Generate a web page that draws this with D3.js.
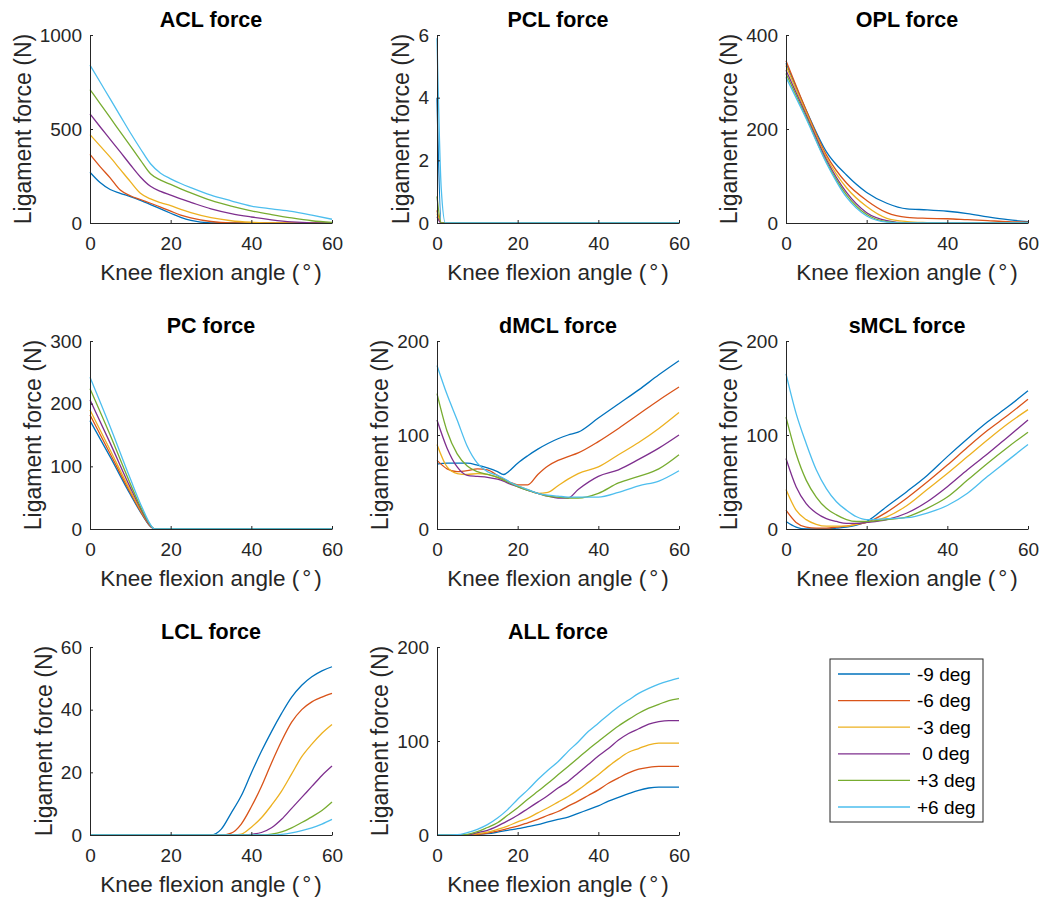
<!DOCTYPE html>
<html>
<head>
<meta charset="utf-8">
<script src="https://cdn.jsdelivr.net/npm/d3@7"></script>
<style>
  body { margin: 0; background: #fff; }
  svg text { font-family: "Liberation Sans", Arial, Helvetica, sans-serif; }
</style>
</head>
<body>
<svg id="chart" width="1040" height="898"></svg>
<script>
//----------------------------------------------------------------
// Données : force ligamentaire (N) en fonction de la flexion (°)
//----------------------------------------------------------------

const seriesNames = ["-9 deg", "-6 deg", "-3 deg", " 0 deg", "+3 deg", "+6 deg"];
const seriesColors = ["#0072BD", "#D95319", "#EDB120", "#7E2F8E", "#77AC30", "#4DBEEE"];
const xTicks = [0, 20, 40, 60];

// ACL
const aclAngle = [0, 2.5, 5, 7.5, 10, 12.5, 15, 17.5, 20, 22.5, 25, 30, 35, 40, 45, 50, 55, 60];
const aclForce = [
    [270, 215, 178, 158, 140, 120, 98, 75, 52, 30, 14, 1, 0, 0, 0, 0, 0, 0],
    [365, 300, 240, 175, 145, 125, 105, 85, 63, 42, 27, 8, 1, 0, 0, 0, 0, 0],
    [470, 410, 350, 285, 220, 158, 128, 108, 92, 72, 55, 28, 12, 4, 0, 0, 0, 0],
    [580, 512, 445, 378, 310, 245, 195, 168, 148, 128, 110, 75, 50, 32, 17, 6, 1, 0],
    [710, 635, 560, 485, 410, 335, 262, 228, 205, 182, 160, 120, 90, 65, 45, 27, 12, 3],
    [840, 750, 660, 570, 480, 395, 315, 265, 235, 210, 188, 148, 118, 90, 75, 62, 42, 20]
];
const aclTicks = [0, 500, 1000];

// PCL
const pclAngle = [0, 1.05, 2.1, 60];
const pclForce = [
    [4.0, 0, 0, 0],
    [0.4, 0, 0, 0],
    [0.3, 0, 0, 0],
    [0.2, 0, 0, 0],
    [0.85, 0, 0, 0],
    [5.9, 1.1, 0, 0]
];
const pclTicks = [0, 2, 4, 6];

// OPL
const oplAngle = [0, 5, 10, 15, 20, 25, 30, 35, 40, 45, 50, 55, 60];
const oplForce = [
    [340, 240, 152, 102, 65, 42, 30, 28, 25, 20, 13, 7, 3],
    [345, 240, 145, 85, 48, 22, 12, 10, 9, 7, 5, 3, 2],
    [335, 235, 140, 75, 35, 10, 3, 1, 0, 0, 0, 0, 0],
    [325, 230, 135, 65, 22, 5, 0, 0, 0, 0, 0, 0, 0],
    [318, 225, 130, 60, 18, 3, 0, 0, 0, 0, 0, 0, 0],
    [310, 222, 128, 55, 15, 2, 0, 0, 0, 0, 0, 0, 0]
];
const oplTicks = [0, 200, 400];

// PC
const pcAngle = [0, 5, 10, 13, 15, 16, 60];
const pcForce = [
    [173, 115, 55, 22, 4, 0, 0],
    [182, 120, 58, 23, 4, 0, 0],
    [190, 126, 61, 25, 5, 0, 0],
    [206, 137, 66, 27, 5, 0, 0],
    [224, 150, 72, 29, 6, 0, 0],
    [242, 163, 80, 33, 7, 0, 0]
];
const pcTicks = [0, 100, 200, 300];

// dMCL
const dmclAngle = [0, 2.5, 5, 7.5, 10, 12.5, 15, 16.5, 18, 20, 22.5, 25, 27.5, 30, 32.5, 35, 40, 45, 50, 55, 60];
const dmclForce = [
    [69, 70, 70, 70, 68, 65, 61, 58, 62, 70, 78, 85, 91, 96, 100, 103, 118, 133, 148, 164, 179],
    [73, 64, 61, 62, 64, 63, 57, 53, 50, 47, 47, 58, 67, 73, 77, 81, 93, 107, 122, 137, 151],
    [90, 66, 59, 58, 59, 58, 55, 52, 49, 46, 42, 38, 39, 46, 53, 59, 66, 79, 92, 107, 124],
    [116, 86, 66, 57, 56, 55, 53, 51, 48, 45, 41, 38, 35, 33, 33, 42, 56, 63, 74, 86, 100],
    [144, 104, 80, 67, 61, 58, 55, 52, 49, 45, 41, 38, 35, 34, 33, 33, 38, 49, 56, 64, 79],
    [174, 143, 116, 88, 70, 61, 57, 54, 50, 46, 42, 38, 36, 35, 34, 34, 34, 39, 46, 51, 62]
];
const dmclTicks = [0, 100, 200];

// sMCL
const smclAngle = [0, 2.5, 5, 7.5, 10, 12.5, 15, 17.5, 20, 25, 30, 35, 40, 45, 50, 55, 60];
const smclForce = [
    [8, 2, 0, 0, 0, 1, 2, 4, 8, 24, 40, 57, 77, 96, 114, 130, 147],
    [20, 7, 2, 1, 1, 2, 3, 5, 7, 18, 33, 50, 68, 87, 105, 121, 138],
    [42, 20, 10, 5, 3, 3, 3, 5, 7, 13, 25, 42, 59, 77, 95, 112, 127],
    [75, 45, 27, 17, 11, 8, 6, 6, 7, 10, 17, 29, 45, 63, 80, 98, 116],
    [119, 80, 52, 34, 22, 15, 10, 8, 8, 10, 13, 22, 34, 52, 70, 87, 103],
    [165, 123, 91, 63, 43, 29, 20, 13, 10, 11, 12, 17, 25, 38, 56, 73, 90]
];
const smclTicks = [0, 100, 200];

// LCL
const lclAngle = [0, 30, 32.5, 35, 37.5, 40, 42.5, 45, 47.5, 50, 52.5, 55, 57.5, 60];
const lclForce = [
    [0, 0, 1.8, 7, 12.5, 19.8, 26.7, 33, 38.8, 44, 47.8, 50.5, 52.4, 53.7],
    [0, 0, 0, 0.6, 3.5, 9, 15.5, 23, 30, 36, 40, 42.5, 44, 45.2],
    [0, 0, 0, 0, 0.3, 2.5, 5.5, 9.5, 14, 19.5, 25, 29, 32.5, 35.3],
    [0, 0, 0, 0, 0, 0.2, 0.8, 2.3, 5, 8.5, 12, 15.5, 19, 22],
    [0, 0, 0, 0, 0, 0, 0, 0.3, 1, 2.3, 4, 5.8, 7.8, 10.5],
    [0, 0, 0, 0, 0, 0, 0, 0, 0.2, 0.7, 1.4, 2.3, 3.5, 5]
];
const lclTicks = [0, 20, 40, 60];

// ALL
const allAngle = [0, 5, 7.5, 10, 12.5, 15, 17.5, 20, 22.5, 25, 27.5, 30, 32.5, 35, 37.5, 40, 42.5, 45, 47.5, 50, 52.5, 55, 57.5, 60];
const allForce = [
    [0, 0, 0, 0.7, 1.4, 3, 5, 6.7, 9, 11, 14, 16.6, 19, 23, 27, 31, 36, 40, 44, 47.6, 50, 51, 51, 51],
    [0, 0, 0, 0.7, 2, 4, 6.7, 9.5, 13, 16.6, 21, 25, 30.7, 36, 42, 48, 55, 60.7, 66, 70, 72, 73, 73, 73],
    [0, 0, 0, 1.4, 3, 6, 9.5, 14, 18, 23.6, 29, 35, 41, 48, 56, 64, 73, 81, 88, 92, 96, 97.7, 97.7, 97.7],
    [0, 0, 0, 2.5, 5, 9.5, 15, 21, 28, 35, 42, 50, 57, 66, 75, 84, 92, 101, 108, 113, 118, 120.6, 121.7, 121.7],
    [0, 0, 0.7, 3.5, 8, 13, 21, 29, 38, 46.5, 55, 64, 73, 82, 91, 99.5, 108, 116, 123, 129.5, 135, 139, 143, 145],
    [0, 0.3, 2.5, 6, 11, 18, 27, 38, 48, 59, 69, 78, 89, 99, 110, 119, 128, 136.5, 143.6, 150.6, 156, 160.5, 164, 167]
];
const allTicks = [0, 100, 200];

//----------------------------------------------------------------
// Mise en page
//----------------------------------------------------------------

const colLeft = [90, 437, 786];
const rowTop = [35, 341, 647];
const plotW = 242;
const plotH = 188;
const axisColor = "#262626";

const panels = [
    { title: "ACL force", angle: aclAngle, force: aclForce, ticks: aclTicks, row: 0, col: 0 },
    { title: "PCL force", angle: pclAngle, force: pclForce, ticks: pclTicks, row: 0, col: 1 },
    { title: "OPL force", angle: oplAngle, force: oplForce, ticks: oplTicks, row: 0, col: 2 },
    { title: "PC force", angle: pcAngle, force: pcForce, ticks: pcTicks, row: 1, col: 0 },
    { title: "dMCL force", angle: dmclAngle, force: dmclForce, ticks: dmclTicks, row: 1, col: 1 },
    { title: "sMCL force", angle: smclAngle, force: smclForce, ticks: smclTicks, row: 1, col: 2 },
    { title: "LCL force", angle: lclAngle, force: lclForce, ticks: lclTicks, row: 2, col: 0 },
    { title: "ALL force", angle: allAngle, force: allForce, ticks: allTicks, row: 2, col: 1 }
];

const svg = d3.select("#chart");

function drawPanel(p) {
    const left = colLeft[p.col];
    const top = rowTop[p.row];
    const g = svg.append("g").attr("transform", "translate(" + left + "," + top + ")");

    const x = d3.scaleLinear().domain([0, 60]).range([0, plotW]);
    const y = d3.scaleLinear().domain([0, d3.max(p.ticks)]).range([plotH, 0]);

    // courbes
    const line = d3.line()
        .x((d, i) => x(p.angle[i]))
        .y(d => y(d))
        .curve(d3.curveMonotoneX);

    p.force.forEach(function (serie, k) {
        g.append("path")
            .attr("d", line(serie))
            .attr("fill", "none")
            .attr("stroke", seriesColors[k])
            .attr("stroke-width", 1.3);
    });

    // axes
    const xAxis = g.append("g")
        .attr("transform", "translate(0," + plotH + ")")
        .call(d3.axisBottom(x).tickValues(xTicks).tickFormat(d3.format("d"))
            .tickSize(-3).tickPadding(14).tickSizeOuter(0));
    const yAxis = g.append("g")
        .call(d3.axisLeft(y).tickValues(p.ticks).tickFormat(d3.format("d"))
            .tickSize(-3).tickPadding(8).tickSizeOuter(0));

    [xAxis, yAxis].forEach(function (a) {
        a.select(".domain").attr("stroke", axisColor);
        a.selectAll(".tick line").attr("stroke", axisColor);
        a.selectAll(".tick text")
            .attr("fill", axisColor)
            .attr("font-size", 19);
    });

    let tickW = 0;
    yAxis.selectAll(".tick text").each(function () {
        tickW = Math.max(tickW, this.getComputedTextLength());
    });

    // libellés
    const xl = g.append("text")
        .attr("x", plotW / 2)
        .attr("y", plotH + 57)
        .attr("text-anchor", "middle")
        .attr("font-size", 22.5)
        .attr("fill", axisColor)
        .text("Knee flexion angle (");
    xl.append("tspan").attr("dx", 3).text("°");
    xl.append("tspan").attr("dx", 3).text(")");

    g.append("text")
        .attr("transform", "translate(" + (-tickW - 17) + "," + (plotH / 2) + ") rotate(-90)")
        .attr("text-anchor", "middle")
        .attr("font-size", 23)
        .attr("fill", axisColor)
        .text("Ligament force (N)");

    g.append("text")
        .attr("x", plotW / 2)
        .attr("y", -8)
        .attr("text-anchor", "middle")
        .attr("font-size", 21.5)
        .attr("font-weight", "bold")
        .attr("fill", "#000")
        .text(p.title);
}

panels.forEach(drawPanel);

//----------------------------------------------------------------
// Légende
//----------------------------------------------------------------

const legend = svg.append("g").attr("transform", "translate(830,659)");

legend.append("rect")
    .attr("width", 153)
    .attr("height", 163)
    .attr("fill", "#fff")
    .attr("stroke", axisColor)
    .attr("stroke-width", 1);

seriesNames.forEach(function (name, k) {
    const ly = 15 + k * 26.6;
    legend.append("line")
        .attr("x1", 8)
        .attr("x2", 80)
        .attr("y1", ly)
        .attr("y2", ly)
        .attr("stroke", seriesColors[k])
        .attr("stroke-width", 1.3);
    legend.append("text")
        .attr("x", 87)
        .attr("y", ly)
        .attr("dy", "0.35em")
        .attr("font-size", 19)
        .attr("fill", "#000")
        .style("white-space", "pre")
        .text(name);
});
</script>
</body>
</html>
